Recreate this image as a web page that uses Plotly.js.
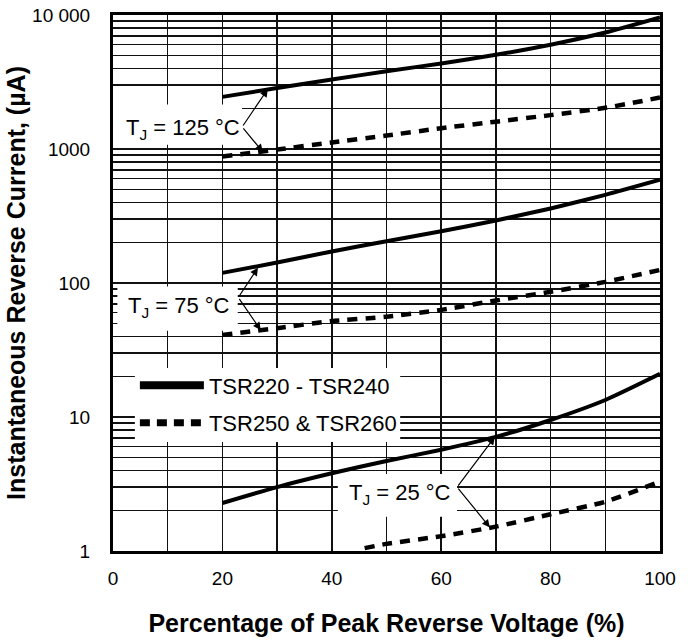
<!DOCTYPE html>
<html>
<head>
<meta charset="utf-8">
<script src="https://cdn.plot.ly/plotly-3.0.1.min.js"></script>
<style>html,body{margin:0;padding:0;background:#fff;}#chart{width:693px;height:642px;}</style>
</head>
<body>
<div id="chart"></div>
<script>
// ---- data ----
const xPct = [20, 30, 40, 50, 60, 70, 80, 90, 100];
const solid125 = [2450, 2850, 3300, 3800, 4350, 5050, 6000, 7400, 9600];
const dashed125 = [880, 990, 1120, 1260, 1430, 1600, 1790, 2030, 2420];
const solid75 = [119, 142, 172, 205, 243, 293, 360, 455, 590];
const dashed75 = [41, 46, 52, 56, 63, 74, 86, 102, 125];
const solid25 = [2.28, 3.0, 3.8, 4.7, 5.7, 7.1, 9.5, 13.4, 21];
const xPct25d = [46, 50, 60, 70, 80, 90, 100];
const dashed25 = [1.05, 1.13, 1.29, 1.52, 1.88, 2.33, 3.3];

const seriesNames = ["TSR220 - TSR240", "TSR250 & TSR260"];
const xTickVals = [0, 10, 20, 30, 40, 50, 60, 70, 80, 90, 100];
const xTickText = ["0", "", "20", "", "40", "", "60", "", "80", "", "100"];
const yDecades = [1, 10, 100, 1000, 10000];
const yDecadeText = ["1", "10", "100", "1000", "10 000"];
const xTitle = "Percentage of Peak Reverse Voltage (%)";
const yTitle = "Instantaneous Reverse Current, (µA)";
const tempLabels = ["T<sub>J</sub> = 125 °C", "T<sub>J</sub> = 75 °C", "T<sub>J</sub> = 25 °C"];

// ---- build minor log ticks ----
const yTickVals = [], yTickText = [];
yDecades.forEach((d, i) => {
  if (d === 10000) { yTickVals.push(d); yTickText.push(yDecadeText[i]); return; }
  for (let m = 1; m <= 9; m++) {
    yTickVals.push(d * m);
    yTickText.push(m === 1 ? yDecadeText[i] : "");
  }
});

const FONT = "Arial, 'Liberation Sans', Helvetica, sans-serif";

const solidLine = {color: "#000", width: 4, shape: "spline", smoothing: 0.6};
const dashLine = {color: "#000", width: 4.5, dash: "10px,8px", shape: "spline", smoothing: 0.6};

const traces = [
  {x: xPct, y: solid125, mode: "lines", line: solidLine, showlegend: false, hoverinfo: "skip"},
  {x: xPct, y: dashed125, mode: "lines", line: dashLine, showlegend: false, hoverinfo: "skip"},
  {x: xPct, y: solid75, mode: "lines", line: solidLine, showlegend: false, hoverinfo: "skip"},
  {x: xPct, y: dashed75, mode: "lines", line: dashLine, showlegend: false, hoverinfo: "skip"},
  {x: xPct, y: solid25, mode: "lines", line: solidLine, showlegend: false, hoverinfo: "skip"},
  {x: xPct25d, y: dashed25, mode: "lines", line: dashLine, showlegend: false, hoverinfo: "skip"},
  // legend entries
  {x: [null], y: [null], mode: "lines", name: seriesNames[0], line: {color: "#000", width: 8}, legendgroup: "a"},
  {x: [null], y: [null], mode: "lines", name: seriesNames[1], line: {color: "#000", width: 7, dash: "10px,7px"}, legendgroup: "b"}
];

const L = Math.log10;
function arrow(tx, ty, vx, vy) {
  return {x: tx, y: L(ty), ax: vx, ay: L(vy), xref: "x", yref: "y", axref: "x", ayref: "y",
          text: "", showarrow: true, arrowhead: 2, arrowsize: 1.3, arrowwidth: 1.2, arrowcolor: "#000", standoff: 0};
}
function label(txt, cx, cy) {
  return {x: cx, y: L(cy), xref: "x", yref: "y", text: txt, showarrow: false,
          font: {family: FONT, size: 22, color: "#000"}, xanchor: "center", yanchor: "middle"};
}

const annotations = [
  label(tempLabels[0], 12.8, 1420),
  arrow(28.3, 2800, 23.6, 1460),
  arrow(27.4, 950, 23.6, 1460),
  label(tempLabels[1], 12.0, 66),
  arrow(26.5, 130, 22.9, 78),
  arrow(27.0, 44.5, 22.9, 78),
  label(tempLabels[2], 52.5, 2.65),
  arrow(69.8, 7.1, 62.9, 3.0),
  arrow(68.9, 1.5, 62.9, 3.0)
];

function whiteBox(x0, x1, y0, y1) {
  return {type: "rect", xref: "x", yref: "y", x0: x0, x1: x1, y0: y0, y1: y1,
          fillcolor: "#fff", line: {width: 0}, layer: "between"};
}
const shapes = [
  whiteBox(0, 23.6, 1075, 2150),
  whiteBox(0.8, 22.8, 44, 94),
  whiteBox(4.0, 52.5, 6.5, 23.2),
  whiteBox(41.1, 62.9, 1.8, 3.76)
];

const layout = {
  width: 693, height: 642,
  margin: {l: 113, r: 33, t: 15, b: 91},
  paper_bgcolor: "#fff", plot_bgcolor: "#fff",
  font: {family: FONT, color: "#000"},
  showlegend: true,
  legend: {x: 0.04, y: 0.348, xanchor: "left", yanchor: "top", bgcolor: "rgba(0,0,0,0)",
           font: {family: FONT, size: 22, color: "#000"}, itemwidth: 64, tracegroupgap: 6,
           traceorder: "grouped"},
  xaxis: {
    range: [0, 100], tickmode: "array", tickvals: xTickVals, ticktext: xTickText,
    showgrid: true, gridcolor: "#111", gridwidth: 1.5, zeroline: false,
    showline: true, linecolor: "#000", linewidth: 3, mirror: true,
    ticks: "", ticklabelstandoff: 8,
    tickfont: {family: FONT, size: 19, color: "#000"},
    title: {text: xTitle, font: {family: FONT, size: 25, color: "#000", weight: "bold"}, standoff: 27},
    fixedrange: true
  },
  yaxis: {
    type: "log", range: [0, 4], tickmode: "array", tickvals: yTickVals, ticktext: yTickText,
    showgrid: true, gridcolor: "#111", gridwidth: 1.5, zeroline: false,
    showline: true, linecolor: "#000", linewidth: 3, mirror: true,
    ticks: "", ticklabelstandoff: 16,
    tickfont: {family: FONT, size: 19, color: "#000"},
    title: {text: yTitle, font: {family: FONT, size: 25, color: "#000", weight: "bold"}, standoff: 0},
    fixedrange: true
  },
  annotations: annotations,
  shapes: shapes
};

Plotly.newPlot("chart", traces, layout, {displayModeBar: false, staticPlot: true});
</script>
</body>
</html>
